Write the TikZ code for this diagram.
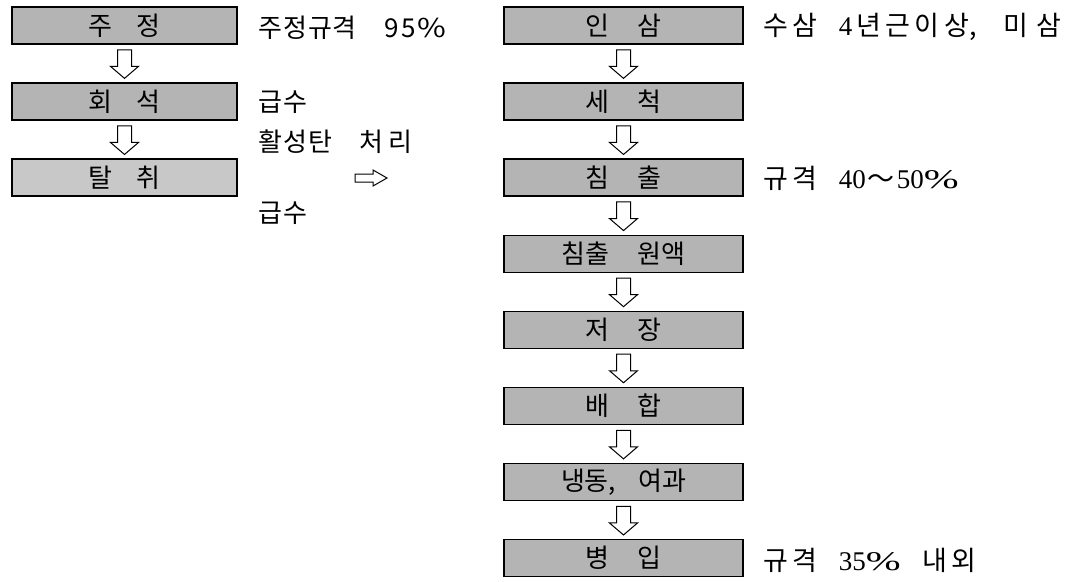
\documentclass[tikz,border=0pt]{standalone}
\usepackage{fontspec}
\setmainfont{Noto Sans CJK KR}
\newfontfamily\kr{Noto Sans CJK KR}
\newfontfamily\lser{Liberation Serif}
\usetikzlibrary{calc}
\definecolor{boxgray}{RGB}{180,180,180}
\definecolor{boxlight}{RGB}{200,200,200}
\tikzset{
  x=1pt, y=-1pt,
  stepbox/.style={draw=black, line width=1.5pt, fill=boxgray, minimum height=37pt,
    inner sep=0pt, font=\fontsize{26}{28}\selectfont\kr},
  leftbox/.style={stepbox, minimum width=225pt},
  rightbox/.style={stepbox, minimum width=239pt},
  note/.style={anchor=west, inner sep=0pt, font=\fontsize{26}{28}\selectfont\kr},
  rnote/.style={note, font=\fontsize{27}{29}\selectfont\kr},
  hollow/.style={draw=black, line width=1pt, fill=white, line join=miter},
}
\newcommand\ls{\hspace{4pt}}
\newcommand\lt{\hspace{1pt}}
\newcommand\pct{\scalebox{1.55}[1]{\%}}
\newcommand\hollowdown[2]{%
  \draw[hollow] ($(#1.south)+(-7,5)$) -- ($(#2.north)+(-7,-16)$)
    -- ($(#2.north)+(-14,-16)$) -- ($(#2.north)+(0,-4)$)
    -- ($(#2.north)+(14,-16)$) -- ($(#2.north)+(7,-16)$)
    -- ($(#1.south)+(7,5)$) -- cycle;}
\begin{document}
\begin{tikzpicture}
\useasboundingbox (0,0) rectangle (1086,581);
% left column
\node[leftbox] (a1) at (124.5,25.5) {주\hspace{25pt}정};
\node[leftbox] (a2) at (124.5,101.6) {회\hspace{25pt}석};
\node[leftbox, fill=boxlight] (a3) at (124.5,177.7) {탈\hspace{25pt}취};
\hollowdown{a1}{a2}
\hollowdown{a2}{a3}
% left notes
\node[note] (t1) at (258,28) {주\lt{}정\lt{}규\lt{}격\hspace{28pt}9\hspace{2pt}5\hspace{2pt}\scalebox{1.2}[1]{\%}};
\node[note] (t2) at (258,102) {급\lt{}수};
\node[note] (t3) at (258,142) {활\lt{}성\lt{}탄\hspace{28pt}처\hspace{5pt}리};
\node[note] (t4) at (258,213) {급\lt{}수};
% right arrow
\coordinate (ra) at (355,178);
\draw[hollow] ($(ra)+(0,-4)$) -- ++(18,0) -- ++(0,-4) -- ++(14,8) -- ++(-14,8) -- ++(0,-4) -- ++(-18,0) -- cycle;
% right column
\node[rightbox] (b1) at (623.5,25.5) {인\hspace{29pt}삼};
\node[rightbox] (b2) at (623.5,101.6) {세\hspace{29pt}척};
\node[rightbox] (b3) at (623.5,177.7) {침\hspace{29pt}출};
\node[rightbox] (b4) at (623.5,253.8) {침출\hspace{29pt}원액};
\node[rightbox] (b5) at (623.5,329.9) {저\hspace{29pt}장};
\node[rightbox] (b6) at (623.5,406) {배\hspace{29pt}합};
\node[rightbox] (b7) at (623.5,482.1) {냉동,\hspace{22pt}여과};
\node[rightbox] (b8) at (623.5,558.2) {병\hspace{29pt}입};
\foreach \i/\j in {b1/b2,b2/b3,b3/b4,b4/b5,b5/b6,b6/b7,b7/b8} {\hollowdown{\i}{\j}}
% right notes
\node[rnote] (r1) at (763,27) {수\ls{}삼\hspace{22pt}{\lser 4}\ls{}년\ls{}근\ls{}이\hspace{6pt}상,\hspace{26pt}미\hspace{8pt}삼};
\node[rnote] (r2) at (763,178) {규\ls{}격\hspace{22pt}{\lser 40}\hspace{2pt}～\hspace{2pt}{\lser 50\pct}};
\node[rnote] (r3) at (763,560) {규\ls{}격\hspace{22pt}{\lser 35\pct}\hspace{22pt}내\ls{}외};
\end{tikzpicture}
\end{document}
